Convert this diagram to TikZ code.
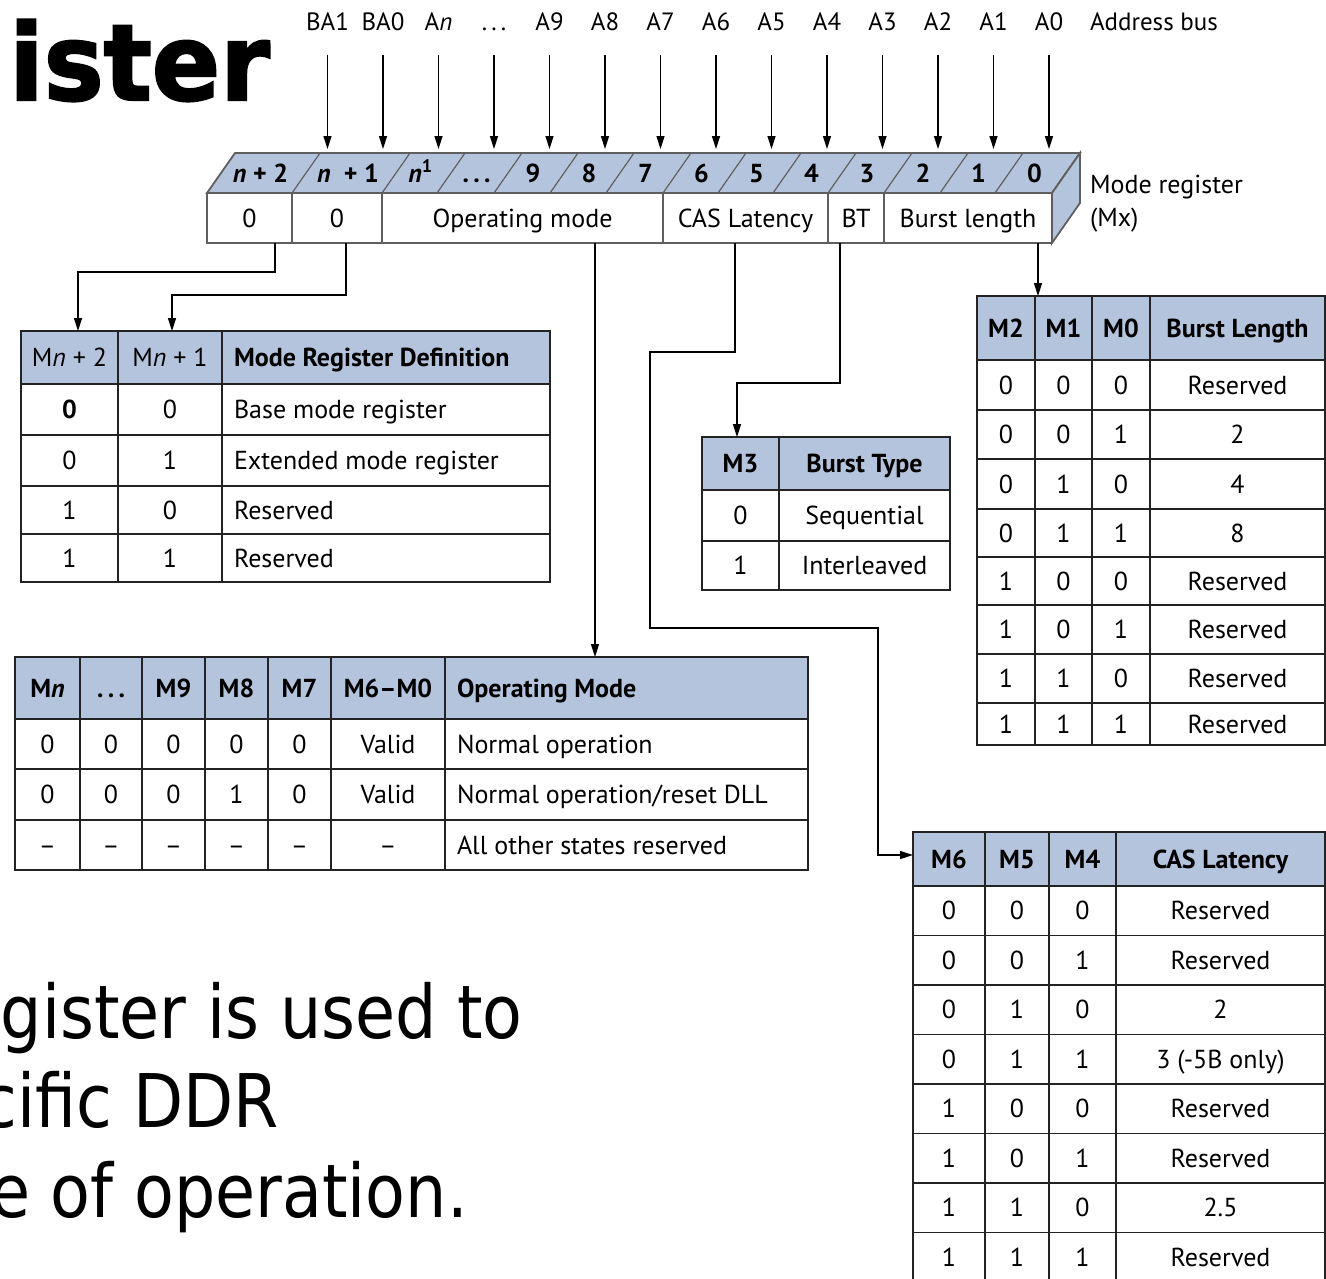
\documentclass[tikz,border=0pt]{standalone}
\usepackage{fontspec}
\setmainfont{PT Sans}
\newfontfamily\titlefont[FakeStretch=0.95,BoldFeatures={FakeBold=2}]{DejaVu Sans}
\newfontfamily\slidefont[FakeStretch=0.88]{DejaVu Sans}
\usetikzlibrary{arrows.meta}
\definecolor{hdr}{RGB}{181,196,221}
\definecolor{tline}{RGB}{35,35,35}
\definecolor{regline}{RGB}{95,95,95}
\newcommand\tcell[7][]{\pgfmathsetmacro\cw{(#5)-(#3)}\pgfmathsetmacro\chh{(#6)-(#4)}%
  \node[cellbox,#1,minimum width=\cw pt,minimum height=\chh pt] (#2) at ({((#3)+(#5))/2},{((#4)+(#6))/2}) {#7};}
\newcommand\lcell[7][]{\pgfmathsetmacro\cw{(#5)-(#3)}\pgfmathsetmacro\chh{(#6)-(#4)}%
  \node[cellbox,minimum width=\cw pt,minimum height=\chh pt] (#2) at ({((#3)+(#5))/2},{((#4)+(#6))/2}) {};%
  \node[txt,#1,anchor=west] (#2t) at ({(#3)+12},{((#4)+(#6))/2}) {#7};}
\begin{document}
\begin{tikzpicture}[x=1pt,y=-1pt,
  txt/.style={font=\fontsize{26}{30}\selectfont, inner sep=0pt, outer sep=0pt, text height=18pt, text depth=0pt},
  hb/.style={font=\fontsize{26}{30}\selectfont\bfseries},
  cellbox/.style={txt, draw=tline, line width=1.6pt},
  addr/.style={txt, font=\fontsize{25}{30}\selectfont},
  lbl/.style={txt, font=\fontsize{26}{30}\selectfont\bfseries},
  arr/.style={-{Triangle[length=13pt,width=8pt]}, line width=1.4pt, draw=black},
  reg/.style={draw=regline, line width=1.8pt},
]
\useasboundingbox (0,0) rectangle (1326,1278);
\clip (0,0) rectangle (1326,1278);

% title fragment
\node[font=\titlefont\bfseries\fontsize{106}{120}\selectfont, anchor=base east, inner sep=0pt] (ttl) at (270,100) {ister};

% address bus
\foreach \x/\t [count=\i] in {327.5/BA1, 383/BA0, 438.5/A\textit{n}, 494/{.\,.\,.}, 549.5/A9, 605/A8, 660.5/A7, 716/A6, 771.5/A5, 827/A4, 882.5/A3, 938/A2, 993.5/A1, 1049/A0}{
  \node[addr] (ab\i) at (\x,21.5) {\t};
  \coordinate (at\i) at (\x,149);
  \draw[arr,shorten <=24pt] (ab\i.south) -- (at\i);
}
\node[addr,anchor=west] (abus) at (1090,21.5) {Address bus};

% register
\filldraw[reg,fill=hdr] (207,193) -- (235,153) -- (1080,153) -- (1052,193) -- cycle;
\filldraw[reg,fill=hdr] (1052,193) -- (1080,153) -- (1080,203) -- (1052,243) -- cycle;
\foreach \xb in {292,382,437,494,550,606,663,718,773,828,884,940,995}
  \draw[reg,line width=1.2pt] (\xb,193) -- ++(28,-40);
\foreach \x/\t [count=\i] in {260.5/{\textit{n} + 2}, 348/{\textit{n}\enspace+ 1}, 420.5/{\textit{n}\textsuperscript{1}}, 476.5/{.\,.\,.}, 533/9, 589/8, 645.5/7, 701.5/6, 756.5/5, 811.5/4, 867/3, 923/2, 978.5/1, 1034.5/0}
  \node[lbl] (bit\i) at (\x,173) {\t};
\tcell[draw=regline,line width=1.8pt]{f1}{207}{193}{292}{243}{0}
\tcell[draw=regline,line width=1.8pt]{f2}{292}{193}{382}{243}{0}
\tcell[draw=regline,line width=1.8pt]{f3}{382}{193}{663}{243}{Operating mode}
\tcell[draw=regline,line width=1.8pt]{f4}{663}{193}{828}{243}{CAS Latency}
\tcell[draw=regline,line width=1.8pt]{f5}{828}{193}{884}{243}{BT}
\tcell[draw=regline,line width=1.8pt]{f6}{884}{193}{1052}{243}{Burst length}
\node[txt,anchor=west] (mr1) at (1090,184) {Mode register};
\node[txt,anchor=west] (mr2) at (1090,217) {(Mx)};

% Table 1
\fill[hdr] (21,331) rectangle (550,384);
\tcell{t1h1}{21}{331}{118}{384}{M\textit{n} + 2}
\tcell{t1h2}{118}{331}{222}{384}{M\textit{n} + 1}
\lcell[hb]{t1h3}{222}{331}{550}{384}{Mode Register Definition}
\foreach \ya/\yb/\a/\b/\c [count=\r] in {384/435/\textbf{0}/0/Base mode register, 435/486/0/1/Extended mode register, 486/534/1/0/Reserved, 534/582/1/1/Reserved}{
  \tcell{t1r\r-1}{21}{\ya}{118}{\yb}{\a}
  \tcell{t1r\r-2}{118}{\ya}{222}{\yb}{\b}
  \lcell{t1r\r-3}{222}{\ya}{550}{\yb}{\c}
}

% Table 2
\fill[hdr] (702,437) rectangle (950,490);
\tcell[hb]{t2h1}{702}{437}{779}{490}{M3}
\tcell[hb]{t2h2}{779}{437}{950}{490}{Burst Type}
\foreach \ya/\yb/\a/\b [count=\r] in {490/541/0/Sequential, 541/590/1/Interleaved}{
  \tcell{t2r\r-1}{702}{\ya}{779}{\yb}{\a}
  \tcell{t2r\r-2}{779}{\ya}{950}{\yb}{\b}
}

% Table 3
\fill[hdr] (977,296) rectangle (1325,360);
\tcell[hb]{t3h1}{977}{296}{1035}{360}{M2}
\tcell[hb]{t3h2}{1035}{296}{1092}{360}{M1}
\tcell[hb]{t3h3}{1092}{296}{1150}{360}{M0}
\tcell[hb]{t3h4}{1150}{296}{1325}{360}{Burst Length}
\foreach \ya/\yb/\a/\b/\c/\d [count=\r] in {360/410/0/0/0/Reserved, 410/459/0/0/1/2, 459/509/0/1/0/4, 509/557/0/1/1/8, 557/605/1/0/0/Reserved, 605/654/1/0/1/Reserved, 654/703/1/1/0/Reserved, 703/745/1/1/1/Reserved}{
  \tcell{t3r\r-1}{977}{\ya}{1035}{\yb}{\a}
  \tcell{t3r\r-2}{1035}{\ya}{1092}{\yb}{\b}
  \tcell{t3r\r-3}{1092}{\ya}{1150}{\yb}{\c}
  \tcell{t3r\r-4}{1150}{\ya}{1325}{\yb}{\d}
}

% Table 4
\fill[hdr] (15,657) rectangle (808,719);
\tcell[hb]{t4h1}{15}{657}{80}{719}{M\textit{n}}
\tcell[hb]{t4h2}{80}{657}{142}{719}{.\,.\,.}
\tcell[hb]{t4h3}{142}{657}{205}{719}{M9}
\tcell[hb]{t4h4}{205}{657}{268}{719}{M8}
\tcell[hb]{t4h5}{268}{657}{331}{719}{M7}
\tcell[hb]{t4h6}{331}{657}{445}{719}{M6–M0}
\lcell[hb]{t4h7}{445}{657}{808}{719}{Operating Mode}
\foreach \ya/\yb/\a/\b/\c/\d/\e/\f/\g [count=\r] in {719/769/0/0/0/0/0/Valid/Normal operation, 769/820/0/0/0/1/0/Valid/{Normal operation/reset DLL}, 820/870/–/–/–/–/–/–/All other states reserved}{
  \tcell{t4r\r-1}{15}{\ya}{80}{\yb}{\a}
  \tcell{t4r\r-2}{80}{\ya}{142}{\yb}{\b}
  \tcell{t4r\r-3}{142}{\ya}{205}{\yb}{\c}
  \tcell{t4r\r-4}{205}{\ya}{268}{\yb}{\d}
  \tcell{t4r\r-5}{268}{\ya}{331}{\yb}{\e}
  \tcell{t4r\r-6}{331}{\ya}{445}{\yb}{\f}
  \lcell{t4r\r-7}{445}{\ya}{808}{\yb}{\g}
}

% Table 5
\fill[hdr] (913,832) rectangle (1325,886);
\tcell[hb]{t5h1}{913}{832}{985}{886}{M6}
\tcell[hb]{t5h2}{985}{832}{1049}{886}{M5}
\tcell[hb]{t5h3}{1049}{832}{1116}{886}{M4}
\tcell[hb]{t5h4}{1116}{832}{1325}{886}{CAS Latency}
\foreach \ya/\yb/\a/\b/\c/\d [count=\r] in {886/935.5/0/0/0/Reserved, 935.5/985/0/0/1/Reserved, 985/1034.5/0/1/0/2, 1034.5/1084/0/1/1/3 (-5B only), 1084/1133.5/1/0/0/Reserved, 1133.5/1183/1/0/1/Reserved, 1183/1232.5/1/1/0/2.5, 1232.5/1282/1/1/1/Reserved}{
  \tcell{t5r\r-1}{913}{\ya}{985}{\yb}{\a}
  \tcell{t5r\r-2}{985}{\ya}{1049}{\yb}{\b}
  \tcell{t5r\r-3}{1049}{\ya}{1116}{\yb}{\c}
  \tcell{t5r\r-4}{1116}{\ya}{1325}{\yb}{\d}
}

% connectors
\draw[arr] ([xshift=25.5pt]f1.south) -- ++(0,29) -| ([xshift=8.5pt]t1h1.north);
\draw[arr] ([xshift=9pt]f2.south) -- ++(0,52) -| ([xshift=2pt]t1h2.north);
\draw[arr] ([xshift=72.5pt]f3.south) -- ([xshift=-31.5pt]t4h7.north);
\draw[arr] ([xshift=-10.5pt]f4.south) -- ++(0,109) -- ++(-85,0) -- ++(0,276) -- ++(228,0) |- ([yshift=4pt]t5h1.west);
\draw[arr] ([xshift=-16pt]f5.south) -- ++(0,140) -| ([xshift=-3.5pt]t2h1.north);
\draw[arr] ([xshift=70pt]f6.south) -- ([xshift=3pt]t3h1.north east);

% slide text fragment
\node[font=\slidefont\fontsize{74}{88}\selectfont, anchor=base east, inner sep=0pt] (s1) at (523,1038) {gister is used to};
\node[font=\slidefont\fontsize{74}{88}\selectfont, anchor=base east, inner sep=0pt] (s2) at (279,1127) {cific DDR};
\node[font=\slidefont\fontsize{74}{88}\selectfont, anchor=base east, inner sep=0pt] (s3) at (468,1217) {e of operation.};
\end{tikzpicture}
\end{document}
